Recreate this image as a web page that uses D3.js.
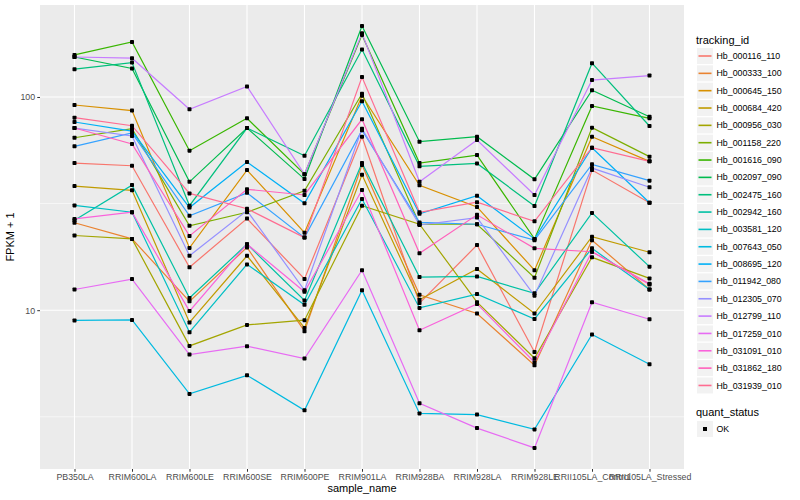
<!DOCTYPE html>
<html><head><meta charset="utf-8">
<script src="https://cdn.jsdelivr.net/npm/d3@7"></script>
<style>body{margin:0;background:#fff} text{font-family:"Liberation Sans",Arial,Helvetica,sans-serif}</style>
</head><body>
<svg id="chart" width="800" height="500"></svg>
<script>
const samples = ["PB350LA","RRIM600LA","RRIM600LE","RRIM600SE","RRIM600PE","RRIM901LA","RRIM928BA","RRIM928LA","RRIM928LE","RRII105LA_Control","RRII105LA_Stressed"];
const trackingIds = ["Hb_000116_110","Hb_000333_100","Hb_000645_150","Hb_000684_420","Hb_000956_030","Hb_001158_220","Hb_001616_090","Hb_002097_090","Hb_002475_160","Hb_002942_160","Hb_003581_120","Hb_007643_050","Hb_008695_120","Hb_011942_080","Hb_012305_070","Hb_012799_110","Hb_017259_010","Hb_031091_010","Hb_031862_180","Hb_031939_010"];
const palette = ["#F8766D","#EA8331","#D89000","#C09B00","#A3A500","#7CAE00","#39B600","#00BB4E","#00BF7D","#00C1A3","#00BFC4","#00BAE0","#00B0F6","#35A2FF","#9590FF","#C77CFF","#E76BF3","#FA62DB","#FF62BC","#FF6C91"];

// FPKM + 1 per sample (same order as samples)
const v000116 = [49.0, 47.6, 15.9, 26.9, 14.0, 65.1, 10.8, 20.2, 6.37, 45.4, 31.9];
const v000333 = [25.7, 21.6, 11.0, 19.7, 7.97, 48.0, 11.8, 9.65, 5.52, 21.3, 12.5];
const v000645 = [91.7, 86.3, 19.6, 45.4, 23.1, 101.4, 38.5, 30.5, 15.4, 65.1, 49.9];
const v000684 = [38.2, 36.5, 8.76, 18.0, 8.26, 43.2, 11.2, 15.6, 9.65, 22.1, 18.7];
const v000956 = [22.4, 21.6, 6.80, 8.53, 8.98, 30.9, 25.3, 10.9, 5.95, 17.7, 14.1];
const v001158 = [64.4, 71.0, 24.9, 28.8, 36.3, 103.6, 25.3, 25.3, 14.2, 71.8, 52.5];
const v001616 = [157.5, 181, 56.0, 79.4, 43.4, 195.5, 49.0, 53.4, 21.6, 90.7, 79.4];
const v002097 = [154, 136, 40.0, 71.5, 41.2, 215, 61.7, 65.1, 41.1, 107.5, 80.8];
const v002475 = [135, 145, 30.9, 71.5, 53.0, 167, 47.3, 48.8, 30.8, 144, 73.1];
const v002942 = [26.4, 38.6, 11.4, 20.4, 11.1, 49.0, 14.3, 14.4, 12.0, 28.6, 16.0];
const v003581 = [31.0, 28.8, 7.88, 16.4, 10.6, 33.2, 10.25, 11.9, 9.1, 19.5, 12.5];
const v007643 = [8.95, 9.0, 4.05, 4.95, 3.39, 12.4, 3.28, 3.24, 2.76, 7.69, 5.58];
const v008695 = [76.3, 69.2, 30.3, 49.5, 31.7, 95.5, 28.3, 34.4, 21.6, 57.8, 31.9];
const v011942 = [58.7, 67.8, 27.7, 35.5, 21.9, 69.8, 25.8, 25.3, 21.3, 48.3, 40.5];
const v012305 = [71.5, 65.6, 18.0, 29.3, 12.4, 71.0, 25.1, 27.2, 11.7, 46.4, 37.7];
const v012799 = [154, 152, 87.6, 112, 43.4, 199, 40.0, 62.8, 34.7, 120, 126];
const v017259 = [12.5, 14.0, 6.19, 6.78, 5.93, 15.4, 3.66, 2.80, 2.26, 10.9, 9.07];
const v031091 = [26.8, 28.8, 9.9, 20.4, 12.2, 36.6, 8.05, 10.7, 5.70, 18.8, 13.2];
const v031862 = [71.5, 60.2, 22.3, 36.9, 34.7, 78.6, 18.5, 28.0, 19.5, 18.8, 13.3];
const v031939 = [80.0, 73.3, 35.3, 29.9, 21.9, 124, 28.8, 32.1, 26.1, 57.8, 49.9];

const seriesValues = [v000116,v000333,v000645,v000684,v000956,v001158,v001616,v002097,v002475,v002942,v003581,v007643,v008695,v011942,v012305,v012799,v017259,v031091,v031862,v031939];
const yMajorBreaks = [10, 100];
const yMinorBreaks = [3.162, 31.62];
const quantStatus = ["OK"];

const W = 800, H = 500;
const P = {left: 40, right: 684, top: 5, bottom: 469};
const svg = d3.select("#chart");
svg.append("rect").attr("width", W).attr("height", H).attr("fill", "#fff");

const x = d3.scalePoint().domain(samples).range([P.left, P.right]).padding(0.6);
const all = seriesValues.flat();
const lmin = Math.log10(d3.min(all)), lmax = Math.log10(d3.max(all));
const ex = (lmax - lmin) * 0.05;
const y = d3.scaleLog().domain([Math.pow(10, lmin - ex), Math.pow(10, lmax + ex)]).range([P.bottom, P.top]);

// panel
svg.append("rect").attr("x", P.left).attr("y", P.top).attr("width", P.right - P.left).attr("height", P.bottom - P.top).attr("fill", "#EBEBEB");
const grid = svg.append("g");
grid.selectAll(".minor").data(yMinorBreaks).join("line")
  .attr("x1", P.left).attr("x2", P.right).attr("y1", d => y(d)).attr("y2", d => y(d))
  .attr("stroke", "#fff").attr("stroke-width", 0.6);
grid.selectAll(".major").data(yMajorBreaks).join("line")
  .attr("x1", P.left).attr("x2", P.right).attr("y1", d => y(d)).attr("y2", d => y(d))
  .attr("stroke", "#fff").attr("stroke-width", 1.1);
grid.selectAll(".vmajor").data(samples).join("line")
  .attr("x1", d => x(d)).attr("x2", d => x(d)).attr("y1", P.top).attr("y2", P.bottom)
  .attr("stroke", "#fff").attr("stroke-width", 1.1);

// lines
const line = d3.line().x((d, i) => x(samples[i])).y(d => y(d));
const series = seriesValues.map((vals, k) => ({id: trackingIds[k], color: palette[k], vals}));
svg.append("g").selectAll("path").data(series).join("path")
  .attr("d", d => line(d.vals)).attr("fill", "none")
  .attr("stroke", d => d.color).attr("stroke-width", 1.2);

// points
const pts = series.flatMap(s => s.vals.map((v, i) => ({s: samples[i], v})));
svg.append("g").selectAll("rect").data(pts).join("rect")
  .attr("x", d => x(d.s) - 2).attr("y", d => y(d.v) - 2)
  .attr("width", 4).attr("height", 4).attr("rx", 0.8).attr("fill", "#000");

// axes
const xAxis = svg.append("g").attr("transform", `translate(0,${P.bottom})`)
  .call(d3.axisBottom(x).tickSize(2.75).tickPadding(1.8));
const yAxis = svg.append("g").attr("transform", `translate(${P.left},0)`)
  .call(d3.axisLeft(y).tickValues(yMajorBreaks).tickFormat(d3.format("d")).tickSize(2.75).tickPadding(2.2));
[xAxis, yAxis].forEach(a => {
  a.select(".domain").remove();
  a.selectAll(".tick line").attr("stroke", "#333333");
  a.selectAll(".tick text").attr("fill", "#4D4D4D").style("font-size", "8.8px")
    .style("font-family", '"Liberation Sans",Arial,sans-serif');
});

svg.append("text").attr("x", (P.left + P.right) / 2).attr("y", 491.5)
  .attr("text-anchor", "middle").style("font-size", "11px").text("sample_name");
svg.append("text").attr("transform", `translate(13.5,${(P.top + P.bottom) / 2}) rotate(-90)`)
  .attr("text-anchor", "middle").style("font-size", "11px").text("FPKM + 1");

// legend
const lg = svg.append("g").attr("transform", "translate(697,0)");
lg.append("text").attr("x", -1).attr("y", 43.5).style("font-size", "11px").text("tracking_id");
const items = lg.selectAll(".it").data(series).join("g")
  .attr("transform", (d, i) => `translate(0,${48 + i * 17.34})`);
items.append("rect").attr("width", 16).attr("height", 16).attr("fill", "#F2F2F2");
items.append("line").attr("x1", 1.5).attr("x2", 14.5).attr("y1", 8).attr("y2", 8)
  .attr("stroke", d => d.color).attr("stroke-width", 1.6);
items.append("text").attr("x", 19.5).attr("y", 8).attr("dy", "0.35em")
  .style("font-size", "8.8px").text(d => d.id);

lg.append("text").attr("x", -1).attr("y", 415.5).style("font-size", "11px").text("quant_status");
const q = lg.selectAll(".q").data(quantStatus).join("g").attr("transform", (d, i) => `translate(0,${421 + i * 17.34})`);
q.append("rect").attr("width", 16).attr("height", 16).attr("fill", "#F2F2F2");
q.append("rect").attr("x", 6).attr("y", 6).attr("width", 4).attr("height", 4).attr("fill", "#000");
q.append("text").attr("x", 19.5).attr("y", 8).attr("dy", "0.35em").style("font-size", "8.8px").text(d => d);
</script>
</body></html>
